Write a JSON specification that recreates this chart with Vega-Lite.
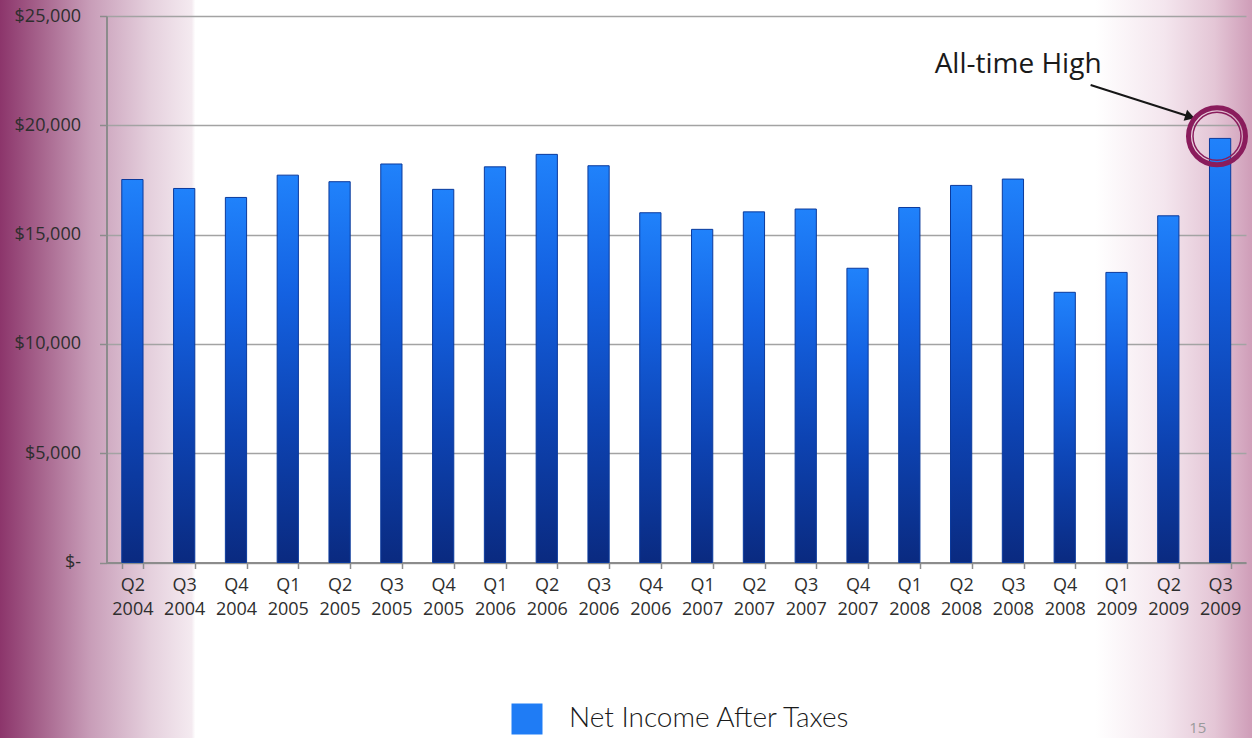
{
  "$schema": "https://vega.github.io/schema/vega-lite/v6.json",
  "width": 1252,
  "height": 738,
  "autosize": {"type": "none"},
  "padding": 0,
  "view": {
    "stroke": null,
    "fill": {
      "gradient": "linear", "x1": 0, "y1": 0, "x2": 1, "y2": 0,
      "stops": [
        {"offset": 0, "color": "#8c356b"},
        {"offset": 0.032, "color": "#a6638c"},
        {"offset": 0.072, "color": "#c89db8"},
        {"offset": 0.12, "color": "#e5d0dd"},
        {"offset": 0.153, "color": "#f4eaf0"},
        {"offset": 0.156, "color": "#ffffff"},
        {"offset": 0.875, "color": "#ffffff"},
        {"offset": 0.93, "color": "#f4e6ee"},
        {"offset": 0.97, "color": "#e4c6d6"},
        {"offset": 1, "color": "#cf9db8"}
      ]
    }
  },
  "config": {
    "axis": {"titleFontSize": 0}
  },
  "resolve": {"scale": {"x": "independent"}},
  "layer": [
    {
      "data": {
        "values": [
          {"quarter": "Q2 2004", "income": 17520},
          {"quarter": "Q3 2004", "income": 17110},
          {"quarter": "Q4 2004", "income": 16700},
          {"quarter": "Q1 2005", "income": 17720},
          {"quarter": "Q2 2005", "income": 17420},
          {"quarter": "Q3 2005", "income": 18230},
          {"quarter": "Q4 2005", "income": 17070},
          {"quarter": "Q1 2006", "income": 18100},
          {"quarter": "Q2 2006", "income": 18670},
          {"quarter": "Q3 2006", "income": 18150},
          {"quarter": "Q4 2006", "income": 16000},
          {"quarter": "Q1 2007", "income": 15240},
          {"quarter": "Q2 2007", "income": 16040},
          {"quarter": "Q3 2007", "income": 16170},
          {"quarter": "Q4 2007", "income": 13460},
          {"quarter": "Q1 2008", "income": 16240},
          {"quarter": "Q2 2008", "income": 17250},
          {"quarter": "Q3 2008", "income": 17540},
          {"quarter": "Q4 2008", "income": 12360},
          {"quarter": "Q1 2009", "income": 13270},
          {"quarter": "Q2 2009", "income": 15860},
          {"quarter": "Q3 2009", "income": 19400}
        ]
      },
      "mark": {
        "type": "bar",
        "fill": {
          "gradient": "linear", "x1": 0, "y1": 0, "x2": 0, "y2": 1,
          "stops": [
            {"offset": 0, "color": "#2082fb"},
            {"offset": 0.3, "color": "#1462e2"},
            {"offset": 0.65, "color": "#0d43b2"},
            {"offset": 1, "color": "#0a2a80"}
          ]
        },
        "stroke": "#0b3a9c",
        "strokeWidth": 1
      },
      "encoding": {
        "x": {
          "field": "quarter", "type": "nominal", "sort": null,
          "scale": {"range": [106.5, 1246], "paddingInner": 0.59, "paddingOuter": 0.295},
          "axis": {
            "title": null, "orient": "bottom", "offset": -175.5,
            "tickBand": "extent", "tickSize": 6, "tickColor": "#8c8c8c", "tickWidth": 1.5,
            "domainColor": "#8c8c8c", "domainWidth": 2,
            "labelAngle": 0, "labelExpr": "isValid(datum.value) ? split(datum.value, ' ') : ''",
            "labelFont": "Open Sans", "labelFontSize": 18, "labelColor": "#2e2e2e",
            "labelLineHeight": 24, "labelPadding": 8, "grid": false
          }
        },
        "y": {
          "field": "income", "type": "quantitative",
          "scale": {"domain": [0, 25000], "range": [562.5, 16], "nice": false, "zero": false},
          "axis": {
            "title": null, "orient": "left", "offset": -106.5,
            "values": [0, 5000, 10000, 15000, 20000, 25000],
            "labelExpr": "datum.value == 0 ? '$-  ' : '$' + format(datum.value, ',')",
            "tickSize": 7, "tickColor": "#8c8c8c", "tickWidth": 1.5,
            "domainColor": "#8c8c8c", "domainWidth": 2,
            "grid": true, "gridColor": "#a3a3a3", "gridWidth": 1.5,
            "labelFont": "Open Sans", "labelFontSize": 18, "labelColor": "#2e2e2e",
            "labelPadding": 19
          }
        }
      }
    },
    {
      "data": {"values": [{}]},
      "layer": [
        {
          "mark": {"type": "rule", "color": "#161616", "strokeWidth": 2},
          "encoding": {
            "x": {"datum": 19.0, "type": "quantitative", "scale": {"domain": [0, 22], "range": [106.5, 1246], "nice": false, "zero": false}, "axis": null},
            "x2": {"datum": 20.92},
            "y": {"datum": 21840, "type": "quantitative", "scale": {"domain": [0, 25000], "range": [562.5, 16], "nice": false, "zero": false}},
            "y2": {"datum": 20390}
          }
        },
        {
          "mark": {"type": "point", "shape": "triangle-right", "filled": true, "color": "#161616", "size": 130, "angle": 17.6, "opacity": 1},
          "encoding": {
            "x": {"datum": 20.92, "type": "quantitative", "scale": {"domain": [0, 22], "range": [106.5, 1246], "nice": false, "zero": false}, "axis": null},
            "y": {"datum": 20390, "type": "quantitative", "scale": {"domain": [0, 25000], "range": [562.5, 16], "nice": false, "zero": false}}
          }
        },
        {
          "mark": {"type": "point", "shape": "circle", "filled": false, "stroke": "#8a1c5c", "strokeWidth": 5, "size": 3249, "opacity": 1},
          "encoding": {
            "x": {"datum": 21.44, "type": "quantitative", "scale": {"domain": [0, 22], "range": [106.5, 1246], "nice": false, "zero": false}, "axis": null},
            "y": {"datum": 19500, "type": "quantitative", "scale": {"domain": [0, 25000], "range": [562.5, 16], "nice": false, "zero": false}}
          }
        },
        {
          "mark": {"type": "point", "shape": "circle", "filled": false, "stroke": "#8a1c5c", "strokeWidth": 1.5, "size": 2304, "opacity": 1},
          "encoding": {
            "x": {"datum": 21.44, "type": "quantitative", "scale": {"domain": [0, 22], "range": [106.5, 1246], "nice": false, "zero": false}, "axis": null},
            "y": {"datum": 19500, "type": "quantitative", "scale": {"domain": [0, 25000], "range": [562.5, 16], "nice": false, "zero": false}}
          }
        },
        {
          "mark": {"type": "text", "text": "All-time High", "font": "Open Sans", "fontSize": 28, "color": "#1a1a1a", "align": "center", "baseline": "middle"},
          "encoding": {
            "x": {"datum": 17.6, "type": "quantitative", "scale": {"domain": [0, 22], "range": [106.5, 1246], "nice": false, "zero": false}, "axis": null},
            "y": {"datum": 22750, "type": "quantitative", "scale": {"domain": [0, 25000], "range": [562.5, 16], "nice": false, "zero": false}}
          }
        },
        {
          "mark": {"type": "text", "text": "15", "font": "Open Sans", "fontSize": 15, "color": "#9a9a9a", "align": "center", "baseline": "bottom"},
          "encoding": {
            "x": {"datum": 21.07, "type": "quantitative", "scale": {"domain": [0, 22], "range": [106.5, 1246], "nice": false, "zero": false}, "axis": null},
            "y": {"datum": -7930, "type": "quantitative", "scale": {"domain": [0, 25000], "range": [562.5, 16], "nice": false, "zero": false}}
          }
        },
        {
          "mark": {"type": "point", "shape": "square", "filled": true, "opacity": 0},
          "encoding": {
            "x": {"datum": 0, "type": "quantitative", "scale": {"domain": [0, 22], "range": [106.5, 1246], "nice": false, "zero": false}, "axis": null},
            "y": {"datum": 0, "type": "quantitative", "scale": {"domain": [0, 25000], "range": [562.5, 16], "nice": false, "zero": false}},
            "color": {
              "datum": "Net Income After Taxes",
              "type": "nominal",
              "scale": {"range": ["#1f7cf5"]},
              "legend": {
                "title": null, "orient": "none", "legendX": 511, "legendY": 703,
                "padding": 0, "symbolType": "square", "symbolSize": 961,
                "symbolOpacity": 1, "symbolStrokeColor": "#0b3a9c", "symbolStrokeWidth": 1,
                "labelFont": "Lato", "labelFontSize": 28, "labelFontWeight": 300,
                "labelColor": "#1a1a1a", "labelLimit": 500, "labelOffset": 26,
                "encode": {
                  "symbols": {
                    "update": {
                      "opacity": {"value": 1},
                      "fill": {
                        "value": {
                          "gradient": "linear", "x1": 0, "y1": 0, "x2": 0, "y2": 1,
                          "stops": [
                            {"offset": 0, "color": "#4a9cff"},
                            {"offset": 0.5, "color": "#1f7cf5"},
                            {"offset": 1, "color": "#0d4fc4"}
                          ]
                        }
                      }
                    }
                  }
                }
              }
            }
          }
        }
      ]
    }
  ]
}
